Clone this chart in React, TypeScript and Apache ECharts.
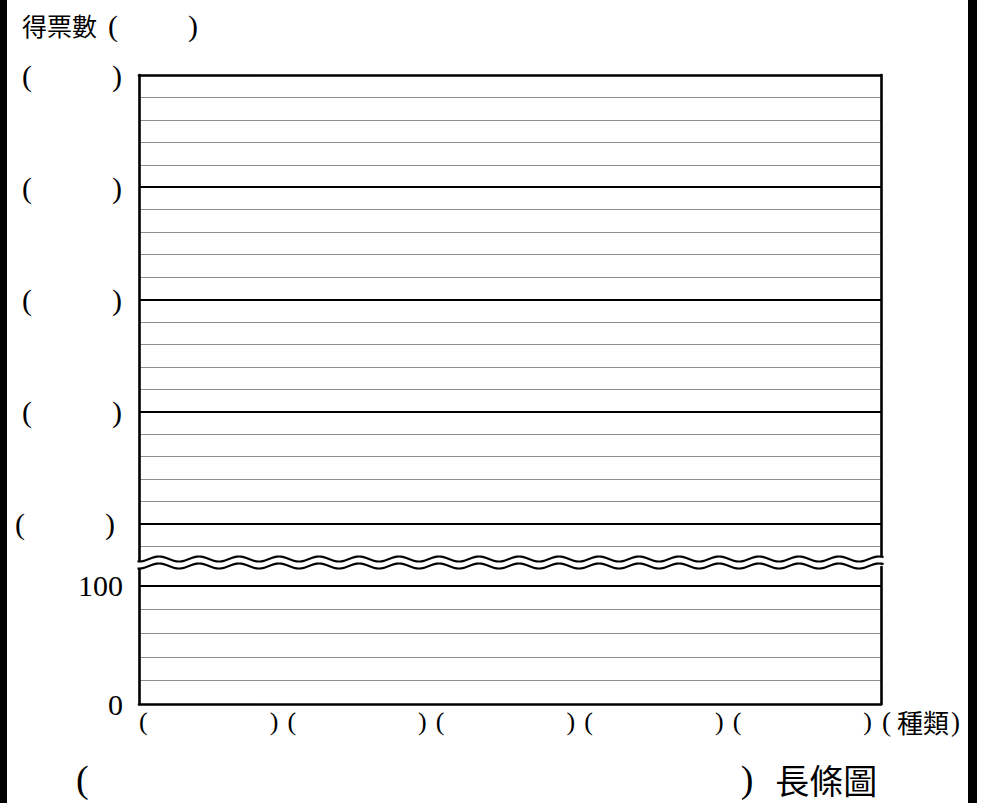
import React, { useEffect, useRef } from 'react';
import * as echarts from 'echarts';

// ---- content of the worksheet chart (all blanks to be filled in) ----
const CATEGORIES = ['', '', '', '', ''];          // five blank category slots "(      )"
const X_UNIT = '種類';                              // x-axis unit
const Y_TITLE = '得票數';                           // y-axis title
const CHART_TITLE = '長條圖';                       // chart title suffix
const LOWER_LABELS = [0, 100];                      // labelled ticks below the axis break
const LOWER_MINOR_STEP = [20];                      // thin grid step below the break
const LOWER_MAX = [116];                            // top of the lower part (at the break)
const UPPER_BLANK_TICKS = [0, 5, 10, 15, 20];       // blank labelled ticks above the break
const UPPER_MAX = [21.7];                           // bottom of the upper part (at the break)

const SERIF = "'Liberation Serif', 'Times New Roman', serif";
const CJK = "'Noto Sans CJK TC', 'Noto Sans CJK SC', sans-serif";

export default function App() {
  const ref = useRef<HTMLDivElement>(null);

  useEffect(() => {
    const chart = echarts.init(ref.current!, null, { renderer: 'svg' });

    const thinLine = { show: true, showMinLine: false, showMaxLine: false, lineStyle: { color: '#8f8f8f', width: 1.2 } };
    const thickLine = { show: true, showMinLine: false, showMaxLine: false, lineStyle: { color: '#000', width: 2.2 } };
    const border = { show: true, onZero: false, lineStyle: { color: '#000', width: 2.6 } };
    const noTick = { show: false };

    const blankRichY = {
      p: { fontFamily: SERIF, fontSize: 30, color: '#000' },
      s: { width: 80 },
      e: { width: 7 },
    };

    const option: any = {
      animation: false,
      backgroundColor: '#ffffff',
      grid: [
        { left: 139, right: 101, top: 567, bottom: 99 },
        { left: 139, right: 101, top: 75, bottom: 241 },
      ],
      xAxis: [
        {
          type: 'category',
          gridIndex: 0,
          data: CATEGORIES,
          position: 'bottom',
          axisLine: border,
          axisTick: noTick,
          splitLine: { show: false },
          axisLabel: {
            show: true,
            interval: 0,
            margin: 4,
            padding: [0, 9, 0, 0],
            formatter: () => '{p|(}{s| }{p|)}',
            rich: {
              p: { fontFamily: SERIF, fontSize: 26, color: '#000' },
              s: { width: 122 },
            },
          },
          name: '{p|(}{c|' + X_UNIT + '}{p|)}',
          nameLocation: 'end',
          nameGap: 1,
          nameTextStyle: {
            align: 'left',
            verticalAlign: 'top',
            padding: [4, 0, 0, 0],
            rich: {
              p: { fontFamily: SERIF, fontSize: 27, color: '#000' },
              c: { fontFamily: CJK, fontSize: 26, color: '#000', padding: [0, 2, 0, 6] },
            },
          },
        },
        {
          type: 'category',
          gridIndex: 1,
          data: CATEGORIES,
          position: 'top',
          axisLine: border,
          axisTick: noTick,
          axisLabel: { show: false },
          splitLine: { show: false },
        },
      ],
      yAxis: [
        {
          type: 'value', gridIndex: 0, position: 'right', z: 0,
          min: 0, max: LOWER_MAX[0], interval: LOWER_MINOR_STEP[0],
          axisLine: border, axisTick: noTick, axisLabel: { show: false },
          splitLine: thinLine,
        },
        {
          type: 'value', gridIndex: 0, position: 'left', z: 1,
          min: 0, max: LOWER_MAX[0], interval: LOWER_LABELS[1],
          axisLine: border, axisTick: noTick,
          axisLabel: {
            show: true, margin: 16, showMinLabel: true, showMaxLabel: false,
            fontFamily: SERIF, fontSize: 30, color: '#000',
            formatter: (v: number) => (LOWER_LABELS.includes(v) ? String(v) : ''),
          },
          splitLine: thickLine,
        },
        {
          type: 'value', gridIndex: 1, position: 'right', inverse: true, z: 0,
          min: 0, max: UPPER_MAX[0], interval: 1,
          axisLine: border, axisTick: noTick, axisLabel: { show: false },
          splitLine: thinLine,
        },
        {
          type: 'value', gridIndex: 1, position: 'left', inverse: true, z: 1,
          min: 0, max: UPPER_MAX[0], interval: 5,
          axisLine: border, axisTick: noTick,
          axisLabel: {
            show: true, margin: 17, showMinLabel: true, showMaxLabel: false,
            formatter: (v: number) => {
              if (!UPPER_BLANK_TICKS.includes(v)) return '';
              return v === UPPER_BLANK_TICKS[UPPER_BLANK_TICKS.length - 1]
                ? '{p|(}{s| }{p|)}{e| }'
                : '{p|(}{s| }{p|)}';
            },
            rich: blankRichY,
          },
          splitLine: thickLine,
        },
      ],
      series: [
        {
          type: 'custom',
          name: 'axis-break',
          xAxisIndex: 0,
          yAxisIndex: 0,
          clip: false,
          silent: true,
          z: 10,
          data: [[0, LOWER_MAX[0]]],
          renderItem: (params: any, api: any) => {
            const cs = params.coordSys;
            const yBreak = api.coord([0, LOWER_MAX[0]])[1];
            const period = 40;
            const amp = 2.5;
            const x0 = cs.x - 1.5;
            const x1 = cs.x + cs.width + 2.5;
            const top: number[][] = [];
            const bot: number[][] = [];
            for (let x = x0; x <= x1 + 0.001; x += 1) {
              const d = amp * Math.cos((2 * Math.PI * (x - cs.x)) / period);
              top.push([x, yBreak - 8 + d]);
              bot.push([x, yBreak - 1 + d]);
            }
            return {
              type: 'group',
              children: [
                { type: 'polygon', shape: { points: top.concat(bot.slice().reverse()) }, style: { fill: '#fff', stroke: null } },
                { type: 'polyline', shape: { points: top }, style: { stroke: '#000', lineWidth: 2.2, fill: null } },
                { type: 'polyline', shape: { points: bot }, style: { stroke: '#000', lineWidth: 2.2, fill: null } },
              ],
            };
          },
        },
      ],
      graphic: [
        { type: 'rect', left: 0, top: 0, shape: { x: 0, y: 0, width: 7, height: 803 }, style: { fill: '#000' } },
        { type: 'rect', left: 968, top: 0, shape: { x: 0, y: 0, width: 9, height: 803 }, style: { fill: '#000' } },
        {
          type: 'text',
          x: 22,
          y: 25,
          style: {
            text: '{c|' + Y_TITLE + '}{g| }{p|(}{s| }{p|)}',
            verticalAlign: 'middle',
            rich: {
              c: { fontFamily: CJK, fontSize: 25, fill: '#000' },
              g: { width: 11 },
              p: { fontFamily: SERIF, fontSize: 30, fill: '#000' },
              s: { width: 70 },
            },
          },
        },
        {
          type: 'text',
          x: 76,
          y: 779,
          style: {
            text: '{p|(}{s| }{p|)}{g| }{c|' + CHART_TITLE + '}',
            verticalAlign: 'middle',
            rich: {
              p: { fontFamily: SERIF, fontSize: 38, fill: '#000' },
              s: { width: 652 },
              g: { width: 22 },
              c: { fontFamily: CJK, fontSize: 34, fill: '#000' },
            },
          },
        },
      ],
    };

    chart.setOption(option);
    return () => chart.dispose();
  }, []);

  return (
    <div
      ref={ref}
      style={{ position: 'absolute', left: 0, top: 0, width: 982, height: 803 }}
    />
  );
}
